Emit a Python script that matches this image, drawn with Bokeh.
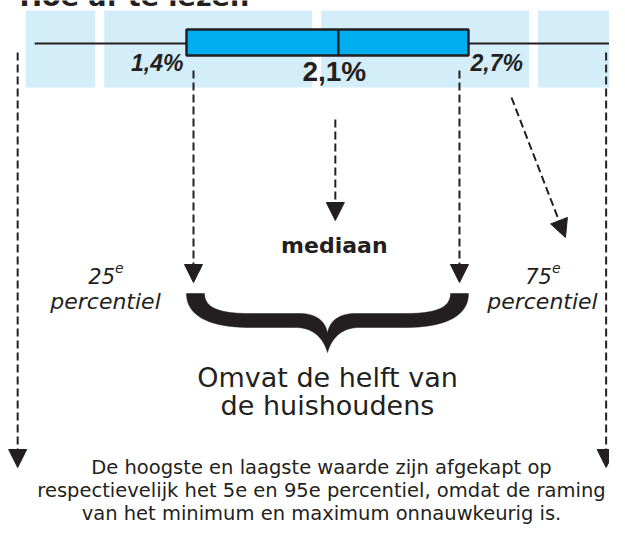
import numpy as np
from bokeh.plotting import figure
from bokeh.models import Range1d, Arrow, NormalHead
from bokeh.core.properties import value
from bokeh.embed import file_html
from bokeh.resources import INLINE

# ---------------- data ----------------
whisker_low = 0.70     # 5e percentiel (afgekapt)
q1 = 1.4               # 25e percentiel
median = 2.1           # mediaan
q3 = 2.7               # 75e percentiel
whisker_high = 3.39    # 95e percentiel (afgekapt)
value_labels = ["1,4%", "2,1%", "2,7%"]
band_ticks = [1, 2, 3]
percentile_numbers = ["25", "75"]
percentile_word = "percentiel"
median_word = "mediaan"
title_text = "Hoe af te lezen"
brace_lines = ["Omvat de helft van", "de huishoudens"]
footnote_lines = [
    "De hoogste en laagste waarde zijn afgekapt op",
    "respectievelijk het 5e en 95e percentiel, omdat de raming",
    "van het minimum en maximum onnauwkeurig is.",
]

# ---------------- layout ----------------
W, H = 609, 526
SCALE = 216.9          # pixels per percentage point
PX = 1.0 / SCALE       # one pixel in data units
x_start = q1 - 186 * PX
TY = -8                # text baseline correction (pixels)

DARK = "#231f20"
BAND = "#d3edf9"
BOX = "#00aeef"

p = figure(width=W, height=H, x_range=Range1d(x_start, x_start + W * PX),
           y_range=Range1d(H, 0), output_backend="svg", toolbar_location=None,
           min_border=0)
p.xaxis.visible = False
p.yaxis.visible = False
p.grid.visible = False
p.outline_line_color = None
p.background_fill_color = "white"
p.border_fill_color = "white"

body = value("DejaVu Sans")

# title (cut off at the top, as in the source)
p.text(x=[x_start + 19 * PX], y=[4 + TY], text=[title_text], text_align="left", text_baseline="alphabetic",
       text_font=body, text_font_style="bold", text_font_size="27px", text_color=DARK)

# light blue bands between integer ticks
gap = 4.5 * PX
lefts = [whisker_low - 9 * PX] + [t + gap for t in band_ticks]
rights = [t - gap for t in band_ticks] + [whisker_high + 2 * PX]
p.quad(left=lefts, right=rights, top=10, bottom=87, fill_color=BAND, line_color=None)

# whisker + box
p.segment(x0=[whisker_low], y0=[43], x1=[whisker_high], y1=[43], line_color=DARK, line_width=2)
p.quad(left=[q1], right=[q3], top=[29], bottom=[55], fill_color=BOX, line_color=DARK, line_width=2.5)
p.segment(x0=[median], y0=[29], x1=[median], y1=[55], line_color=DARK, line_width=2.5)

# value labels
lab_font = value("Liberation Sans")
p.text(x=[q1 - 3 * PX], y=[70 + TY], text=[value_labels[0]], text_align="right", text_baseline="alphabetic",
       text_font=lab_font, text_font_style="bold italic", text_font_size="23px", text_color=DARK)
p.text(x=[median - 4 * PX], y=[79 + TY], text=[value_labels[1]], text_align="center", text_baseline="alphabetic",
       text_font=lab_font, text_font_style="bold", text_font_size="28px", text_color=DARK)
p.text(x=[q3 + 2 * PX], y=[70 + TY], text=[value_labels[2]], text_align="left", text_baseline="alphabetic",
       text_font=lab_font, text_font_style="bold italic", text_font_size="23px", text_color=DARK)


def darrow(xs, ys, xe, ye):
    p.add_layout(Arrow(x_start=xs, y_start=ys, x_end=xe, y_end=ye,
                       line_color=DARK, line_width=2, line_dash="8 4",
                       end=NormalHead(size=18, fill_color=DARK, line_color=DARK, line_width=1)))


x_out_l = whisker_low - 17 * PX
x_out_r = whisker_high - 12 * PX
x_a25 = q1 + 7 * PX
x_a75 = q3 - 9 * PX
darrow(x_out_l, 52, x_out_l, 467)
darrow(x_out_r, 52, x_out_r, 467)
darrow(x_a25, 70, x_a25, 282)
darrow(x_a75, 70, x_a75, 282)
darrow(median - 3 * PX, 119, median - 3 * PX, 220)
darrow(q3 + 43 * PX, 97, q3 + 97 * PX, 237)

p.text(x=[median - 4 * PX], y=[253 + TY], text=[median_word], text_align="center", text_baseline="alphabetic",
       text_font=body, text_font_style="bold", text_font_size="22px", text_color=DARK)

# percentile labels
for cx, num in zip([q1 - 81 * PX, q3 + 74 * PX], percentile_numbers):
    anchor = cx + 9.5 * PX
    p.text(x=[anchor], y=[283 + TY], text=[num], text_align="right", text_baseline="alphabetic",
           text_font=body, text_font_style="italic", text_font_size="21px", text_color=DARK)
    p.text(x=[anchor], y=[275 + TY], text=["e"], text_align="left", text_baseline="alphabetic",
           text_font=body, text_font_style="italic", text_font_size="14px", text_color=DARK)
    p.text(x=[cx], y=[309 + TY], text=[percentile_word], text_align="center", text_baseline="alphabetic",
           text_font=body, text_font_style="italic", text_font_size="22px", text_color=DARK)


# curly brace spanning the interquartile range
def bez(p0, p1, p2, p3, n=24):
    t = np.linspace(0, 1, n)[:, None]
    pts = ((1 - t) ** 3) * np.array(p0) + 3 * ((1 - t) ** 2) * t * np.array(p1) \
        + 3 * (1 - t) * (t ** 2) * np.array(p2) + (t ** 3) * np.array(p3)
    return [tuple(r) for r in pts]


hw = (q3 - q1) / 2 * SCALE
half = []
half += bez((hw, 352), (hw - 4, 338), (hw - 14, 327), (hw - 32, 327))
half += bez((64, 327), (24, 327), (0, 316), (0, 293))
half += [(18, 293)]
half += bez((18, 293), (18, 306), (30, 313), (62, 313))
half += bez((hw - 28, 313), (hw - 12, 313), (hw - 2, 320), (hw, 333))
bx = [q1 + u * PX for u, _ in half] + [q3 - u * PX for u, _ in reversed(half)]
by = [v for _, v in half] + [v for _, v in reversed(half)]
p.patch(bx, by, fill_color=DARK, line_color=DARK, line_width=0.5)

mid = (q1 + q3) / 2
for yy, line in zip([385, 413], brace_lines):
    p.text(x=[mid], y=[yy + TY], text=[line], text_align="center", text_baseline="alphabetic",
           text_font=body, text_font_size="27px", text_color=DARK)

for yy, line in zip([475, 498, 521], footnote_lines):
    p.text(x=[q1 + 135 * PX], y=[yy + TY], text=[line], text_align="center", text_baseline="alphabetic",
           text_font=body, text_font_size="19.5px", text_color=DARK)

open("out.html", "w").write(file_html(p, INLINE))
